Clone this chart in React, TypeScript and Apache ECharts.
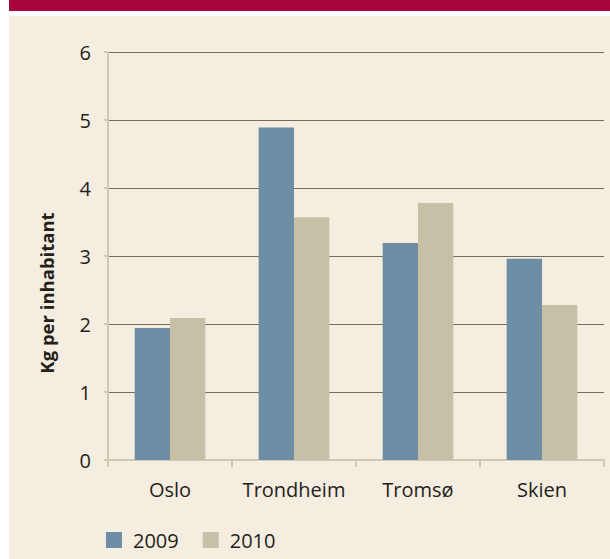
import React, { useEffect, useRef } from "react";
import * as echarts from "echarts";

const categories = ["Oslo", "Trondheim", "Tromsø", "Skien"];
const values2009 = [1.94, 4.89, 3.19, 2.96];
const values2010 = [2.09, 3.57, 3.78, 2.28];
const yTicks = [0, 1, 2, 3, 4, 5, 6];
const seriesNames = ["2009", "2010"];
const yTitle = "Kg per inhabitant";

const FONT = "'Open Sans', 'Noto Sans', sans-serif";
const TEXT = "#251e1b";

export default function App() {
  const ref = useRef<HTMLDivElement>(null);
  useEffect(() => {
    if (!ref.current) return;
    const chart = echarts.init(ref.current, null, { renderer: "svg" });
    chart.setOption({
      animation: false,
      backgroundColor: "#ffffff",
      textStyle: { fontFamily: FONT, color: TEXT },
      graphic: [
        { type: "rect", z: -100, shape: { x: 9, y: 0, width: 601, height: 11 }, style: { fill: "#a8063a" } },
        { type: "rect", z: -100, shape: { x: 9, y: 16, width: 601, height: 543 }, style: { fill: "#f4ede0" } },
        {
          type: "text",
          x: 46,
          y: 293,
          rotation: Math.PI / 2,
          style: {
            text: yTitle,
            fontFamily: FONT,
            fontSize: 18.5,
            fontWeight: "bold",
            fill: TEXT,
            align: "center",
            verticalAlign: "middle",
          },
        },
      ],
      legend: {
        left: 101,
        top: 525,
        itemWidth: 16,
        itemHeight: 16,
        itemGap: 24,
        icon: "rect",
        textStyle: { fontFamily: FONT, fontSize: 20, color: TEXT, padding: [0, 0, 0, 6] },
        data: seriesNames,
      },
      grid: { left: 108, right: 6, top: 52, bottom: 99, containLabel: false },
      xAxis: {
        type: "category",
        data: categories,
        axisLine: { show: true, lineStyle: { color: "#cfc9b0", width: 2 } },
        axisTick: { show: true, interval: 0, length: 7, lineStyle: { color: "#cfc9b0", width: 2 } },
        axisLabel: { interval: 0, fontFamily: FONT, fontSize: 20, color: TEXT, margin: 19 },
      },
      yAxis: {
        type: "value",
        min: yTicks[0],
        max: yTicks[yTicks.length - 1],
        interval: 1,
        axisLine: { show: true, lineStyle: { color: "#cfc9b0", width: 2 } },
        axisTick: { show: true, length: 4, lineStyle: { color: "#cfc9b0", width: 2 } },
        axisLabel: { fontFamily: FONT, fontSize: 20, color: TEXT, margin: 17 },
        splitLine: { show: true, lineStyle: { color: "#736b5d", width: 1 } },
      },
      series: [
        {
          name: seriesNames[0],
          type: "bar",
          data: values2009,
          barGap: "0%",
          barCategoryGap: "43%",
          itemStyle: { color: "#6d8ea4" },
        },
        {
          name: seriesNames[1],
          type: "bar",
          data: values2010,
          barGap: "0%",
          barCategoryGap: "43%",
          itemStyle: { color: "#c6c0a7" },
        },
      ],
    });
    return () => chart.dispose();
  }, []);
  return (
    <div
      ref={ref}
      style={{ position: "fixed", left: 0, top: 0, width: 610, height: 559 }}
    />
  );
}
